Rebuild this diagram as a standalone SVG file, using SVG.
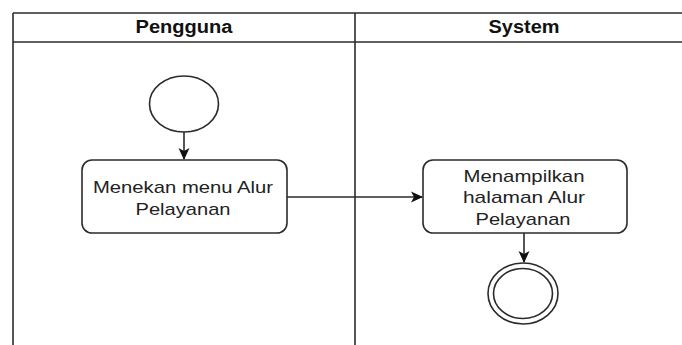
<svg xmlns="http://www.w3.org/2000/svg" width="682" height="345" viewBox="0 0 682 345">
<defs>
<style>
.ln{stroke:#2b2b2b;stroke-width:1.6;fill:none}
.node{fill:#fff;stroke:#2b2b2b;stroke-width:1.6}
.hd{font-family:"Liberation Sans",Arial,sans-serif;font-weight:bold;font-size:17.5px;fill:#111;text-anchor:middle}
.tx{font-family:"Liberation Sans",Arial,sans-serif;font-size:17px;fill:#222;text-anchor:middle}
</style>
<marker id="arr" markerWidth="12" markerHeight="12" refX="11" refY="6" orient="auto" markerUnits="userSpaceOnUse">
<path d="M0,0.5 L12,6 L0,11.5 L3,6 Z" fill="#111"/>
</marker>
</defs>
<rect width="682" height="345" fill="#fff"/>
<g id="swimlanes">
<line class="ln" x1="13" y1="13" x2="682" y2="13"/>
<line class="ln" x1="13" y1="42" x2="682" y2="42"/>
<line class="ln" x1="13" y1="13" x2="13" y2="345"/>
<line class="ln" x1="355" y1="13" x2="355" y2="345"/>
<text class="hd" x="184" y="33" textLength="97" lengthAdjust="spacingAndGlyphs">Pengguna</text>
<text class="hd" x="524" y="33" textLength="71" lengthAdjust="spacingAndGlyphs">System</text>
</g>
<g id="connectors">
<line class="ln" x1="184" y1="132" x2="184" y2="159" marker-end="url(#arr)"/>
<line class="ln" x1="287" y1="197" x2="422" y2="197" marker-end="url(#arr)"/>
<line class="ln" x1="524" y1="233" x2="524" y2="262" marker-end="url(#arr)"/>
</g>
<g id="start">
<ellipse class="node" cx="184" cy="104" rx="34.5" ry="28"/>
</g>
<g id="menekan">
<rect class="node" x="82" y="160" width="205" height="73" rx="10"/>
<text class="tx" x="183" y="193" textLength="180" lengthAdjust="spacingAndGlyphs">Menekan menu Alur</text>
<text class="tx" x="183" y="215" textLength="95" lengthAdjust="spacingAndGlyphs">Pelayanan</text>
</g>
<g id="menampilkan">
<rect class="node" x="423" y="160" width="204" height="73" rx="10"/>
<text class="tx" x="524" y="182" textLength="121" lengthAdjust="spacingAndGlyphs">Menampilkan</text>
<text class="tx" x="524" y="203" textLength="122" lengthAdjust="spacingAndGlyphs">halaman Alur</text>
<text class="tx" x="523" y="225" textLength="95" lengthAdjust="spacingAndGlyphs">Pelayanan</text>
</g>
<g id="end">
<ellipse class="node" cx="523" cy="293.5" rx="35" ry="30.5"/>
<ellipse class="node" cx="523" cy="293.5" rx="29.5" ry="25"/>
</g>
</svg>
